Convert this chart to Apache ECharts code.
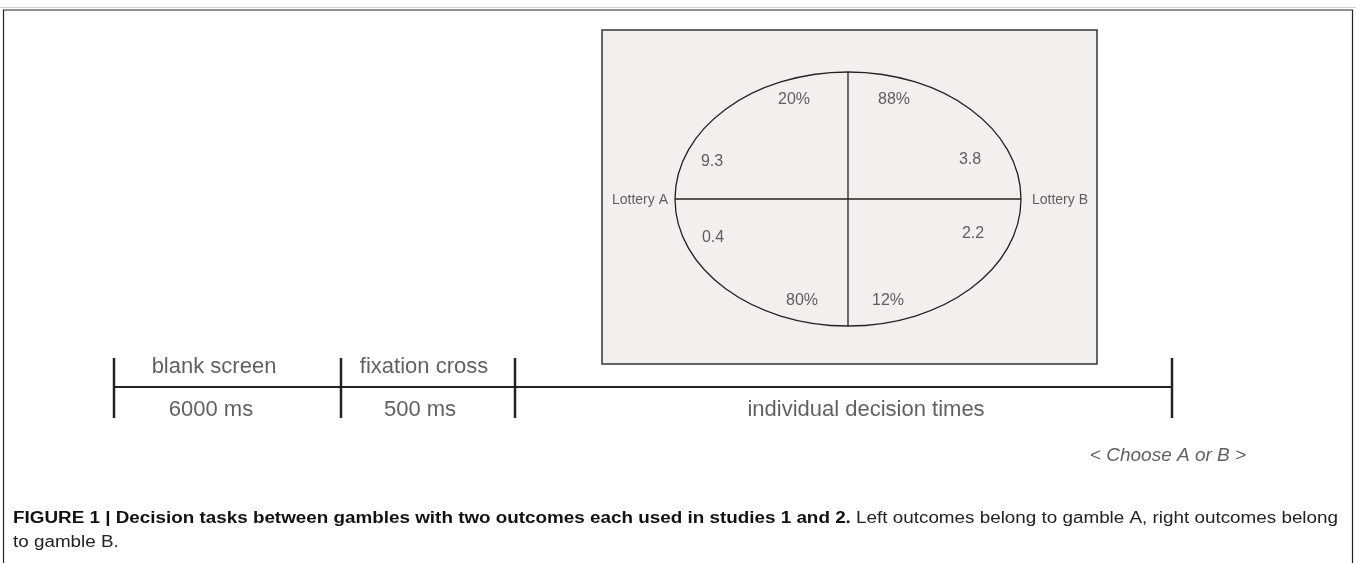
<!DOCTYPE html>
<html><head><meta charset="utf-8">
<script src="https://cdn.jsdelivr.net/npm/echarts@6/dist/echarts.min.js"></script>
<style>html,body{margin:0;padding:0;background:#fff}#c{width:1356px;height:563px}</style>
</head><body><div id="c"></div>
<script>
// ---- data ----
const lotteryNames = ['Lottery A', 'Lottery B'];
const probsA = ['20%', '80%'];
const outcomesA = ['9.3', '0.4'];
const probsB = ['88%', '12%'];
const outcomesB = ['3.8', '2.2'];
const phaseNames = ['blank screen', 'fixation cross', ''];
const phaseDurations = ['6000 ms', '500 ms', 'individual decision times'];
const responseLabel = '< Choose A or B >';
const captionBold = 'FIGURE 1 | Decision tasks between gambles with two outcomes each used in studies 1 and 2.';
const captionLine1 = ' Left outcomes belong to gamble A, right outcomes belong';
const captionLine2 = 'to gamble B.';

// ---- layout (pixels) ----
const W = 1356, H = 563;
const panel = {x: 602, y: 30, w: 495, h: 334};
const ell = {cx: 848, cy: 199, rx: 173, ry: 127};
const probPosA = [[794, 100], [802, 301]];
const outPosA = [[712, 162], [713, 238]];
const probPosB = [[894, 100], [888, 301]];
const outPosB = [[970, 160], [973, 234]];
const lotteryPos = [[640, 200], [1060, 200]];
const tl = {y: 387, bounds: [114, 341, 515, 1172], top: 358, bot: 418};
const namePos = [[214, 367], [424, 367]];
const durPos = [[211, 410], [420, 410], [866, 410]];
const respPos = [1168, 456];
const capX = 13, capRight = 1338, capY1 = 519, capY2 = 543, capSize = 16;

const SANS = '"Liberation Sans", Arial, Helvetica, sans-serif';
const TXT = '#383838';
const INK = '#222';

function lbl(x, y, text, size, extra) {
  return {value: [x, y, text], label: Object.assign({fontSize: size}, extra || {})};
}
const textData = [];
for (let i = 0; i < 2; i++) {
  textData.push(lbl(probPosA[i][0], probPosA[i][1], probsA[i], 16));
  textData.push(lbl(outPosA[i][0], outPosA[i][1], outcomesA[i], 16));
  textData.push(lbl(probPosB[i][0], probPosB[i][1], probsB[i], 16));
  textData.push(lbl(outPosB[i][0], outPosB[i][1], outcomesB[i], 16));
  textData.push(lbl(lotteryPos[i][0], lotteryPos[i][1], lotteryNames[i], 14));
}
for (let i = 0; i < phaseNames.length; i++) {
  if (phaseNames[i]) textData.push(lbl(namePos[i][0], namePos[i][1], phaseNames[i], 22));
  textData.push(lbl(durPos[i][0], durPos[i][1], phaseDurations[i], 22));
}
textData.push(lbl(respPos[0], respPos[1], responseLabel, 19, {fontStyle: 'italic'}));

// caption horizontal fitting so line 1 spans the reference width
const mctx = document.createElement('canvas').getContext('2d');
mctx.font = 'bold ' + capSize + 'px ' + SANS;
const wB = mctx.measureText(captionBold).width;
mctx.font = capSize + 'px ' + SANS;
const wN = mctx.measureText(captionLine1).width;
const capScale = (capRight - capX) / (wB + wN);

const chart = echarts.init(document.getElementById('c'), null, {renderer: 'canvas'});
chart.setOption({
  animation: false,
  backgroundColor: '#fff',
  grid: {left: 0, right: 0, top: 0, bottom: 0},
  xAxis: {type: 'value', min: 0, max: W, show: false},
  yAxis: {type: 'value', min: 0, max: H, inverse: true, show: false},
  graphic: [
    {type: 'line', shape: {x1: 0, y1: 7.5, x2: W, y2: 7.5}, style: {stroke: '#d0d0d0', lineWidth: 1}},
    {type: 'polyline', shape: {points: [[3.5, H], [3.5, 10], [1352.5, 10], [1352.5, H]]}, style: {stroke: INK, lineWidth: 1.2, fill: null}},
    {type: 'text', x: capX, y: capY1, scaleX: capScale, style: {
      text: '{b|' + captionBold + '}{n|' + captionLine1 + '}', verticalAlign: 'middle',
      rich: {b: {font: 'bold ' + capSize + 'px ' + SANS, fill: '#111'}, n: {font: capSize + 'px ' + SANS, fill: '#222'}}
    }},
    {type: 'text', x: capX, y: capY2, scaleX: capScale, style: {text: captionLine2, verticalAlign: 'middle', font: capSize + 'px ' + SANS, fill: '#222'}}
  ],
  series: [
    {
      type: 'custom', coordinateSystem: 'cartesian2d', silent: true,
      data: [[panel.x, panel.y]],
      renderItem: function (params, api) {
        const p0 = api.coord([panel.x, panel.y]);
        const p1 = api.coord([panel.x + panel.w, panel.y + panel.h]);
        const c = api.coord([ell.cx, ell.cy]);
        const e = api.coord([ell.cx + ell.rx, ell.cy + ell.ry]);
        const rx = e[0] - c[0], ry = e[1] - c[1];
        return {type: 'group', children: [
          {type: 'rect', shape: {x: p0[0], y: p0[1], width: p1[0] - p0[0], height: p1[1] - p0[1]},
            style: {fill: '#f2efed', stroke: '#333', lineWidth: 1.5}},
          {type: 'ellipse', shape: {cx: c[0], cy: c[1], rx: rx, ry: ry}, style: {fill: null, stroke: INK, lineWidth: 1.3}},
          {type: 'line', shape: {x1: c[0] - rx, y1: c[1], x2: c[0] + rx, y2: c[1]}, style: {stroke: INK, lineWidth: 1.3}},
          {type: 'line', shape: {x1: c[0], y1: c[1] - ry, x2: c[0], y2: c[1] + ry}, style: {stroke: INK, lineWidth: 1.3}}
        ]};
      }
    },
    {
      type: 'custom', coordinateSystem: 'cartesian2d', silent: true,
      data: phaseNames.map((n, i) => [tl.bounds[i], tl.bounds[i + 1]]),
      renderItem: function (params, api) {
        const a = api.coord([api.value(0), tl.y]);
        const b = api.coord([api.value(1), tl.y]);
        const t = api.coord([0, tl.top])[1], bt = api.coord([0, tl.bot])[1];
        const ch = [
          {type: 'line', shape: {x1: a[0], y1: a[1], x2: b[0], y2: b[1]}, style: {stroke: INK, lineWidth: 2.2}},
          {type: 'line', shape: {x1: a[0], y1: t, x2: a[0], y2: bt}, style: {stroke: INK, lineWidth: 2.5}}
        ];
        if (params.dataIndex === phaseNames.length - 1) {
          ch.push({type: 'line', shape: {x1: b[0], y1: t, x2: b[0], y2: bt}, style: {stroke: INK, lineWidth: 2.5}});
        }
        return {type: 'group', children: ch};
      }
    },
    {
      type: 'scatter', symbolSize: 0, silent: true,
      data: textData,
      label: {show: true, position: 'inside', color: TXT, fontFamily: SANS,
        formatter: p => p.data.value[2]}
    }
  ]
});
</script>
</body></html>
